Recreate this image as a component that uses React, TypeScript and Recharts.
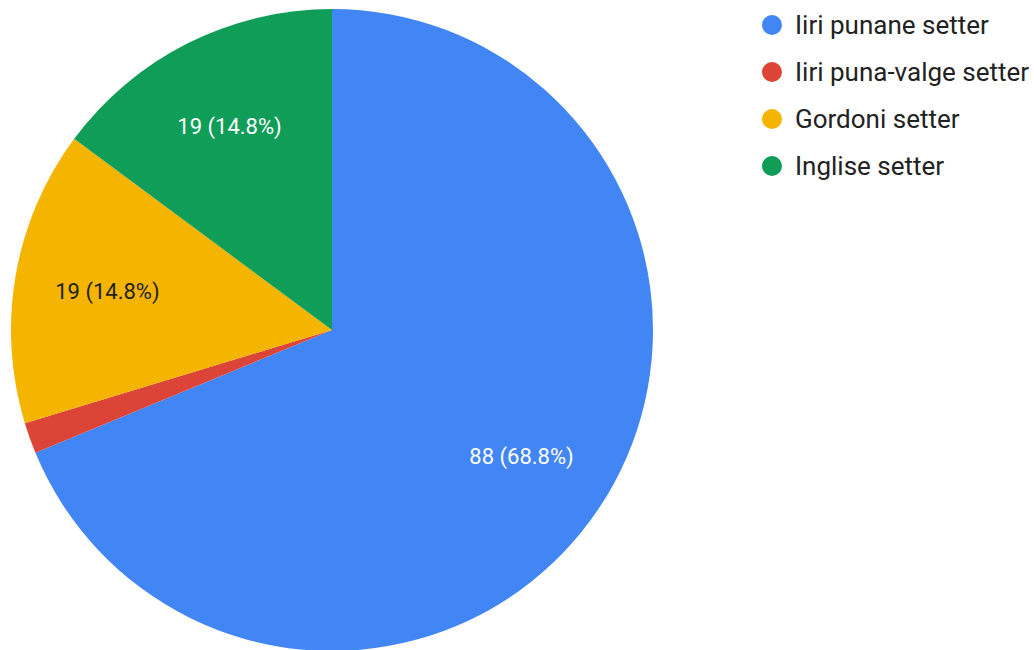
import { PieChart, Pie, Cell, Legend } from 'recharts';

const labels = ['Iiri punane setter', 'Iiri puna-valge setter', 'Gordoni setter', 'Inglise setter'];
const values = [88, 2, 19, 19];
const colors = ['#4285f4', '#db4437', '#f4b400', '#0f9d58'];
const labelColors = ['#ffffff', '#ffffff', '#222222', '#ffffff'];

const total = values.reduce((a, b) => a + b, 0);
const data = labels.map((name, i) => ({ name, value: values[i] }));

const RAD = Math.PI / 180;

function renderLabel(props: any) {
  const { cx, cy, midAngle, outerRadius, index, value } = props;
  const pct = value / total;
  if (pct < 0.05) return null;
  const r = outerRadius * 0.71;
  const x = cx + r * Math.cos(-midAngle * RAD);
  const y = cy + r * Math.sin(-midAngle * RAD);
  return (
    <text
      x={x}
      y={y}
      fill={labelColors[index]}
      textAnchor="middle"
      dominantBaseline="central"
      fontSize={22}
      fontFamily="Roboto"
    >
      {`${value} (${(pct * 100).toFixed(1)}%)`}
    </text>
  );
}

function renderLegend() {
  return (
    <div style={{ fontFamily: 'Roboto', fontSize: 26, color: '#222' }}>
      {labels.map((name, i) => (
        <div key={name} style={{ display: 'flex', alignItems: 'center', height: 47 }}>
          <span
            style={{
              width: 20,
              height: 20,
              borderRadius: 10,
              background: colors[i],
              marginRight: 13,
              display: 'inline-block',
              flexShrink: 0,
            }}
          />
          <span style={{ whiteSpace: 'nowrap' }}>{name}</span>
        </div>
      ))}
    </div>
  );
}

export default function App() {
  return (
    <div style={{ position: 'absolute', left: 0, top: 0, width: 1034, height: 650, background: '#fff' }}>
      <PieChart width={1034} height={650} margin={{ top: 0, right: 0, bottom: 0, left: 0 }}>
        <Pie
          data={data}
          dataKey="value"
          nameKey="name"
          cx={332}
          cy={330}
          outerRadius={321}
          startAngle={90}
          endAngle={-270}
          stroke="none"
          label={renderLabel}
          labelLine={false}
          isAnimationActive={false}
        >
          {data.map((d, i) => (
            <Cell key={d.name} fill={colors[i]} />
          ))}
        </Pie>
        <Legend
          content={renderLegend}
          wrapperStyle={{ position: 'absolute', left: 762, top: 1, width: 272 }}
        />
      </PieChart>
    </div>
  );
}
